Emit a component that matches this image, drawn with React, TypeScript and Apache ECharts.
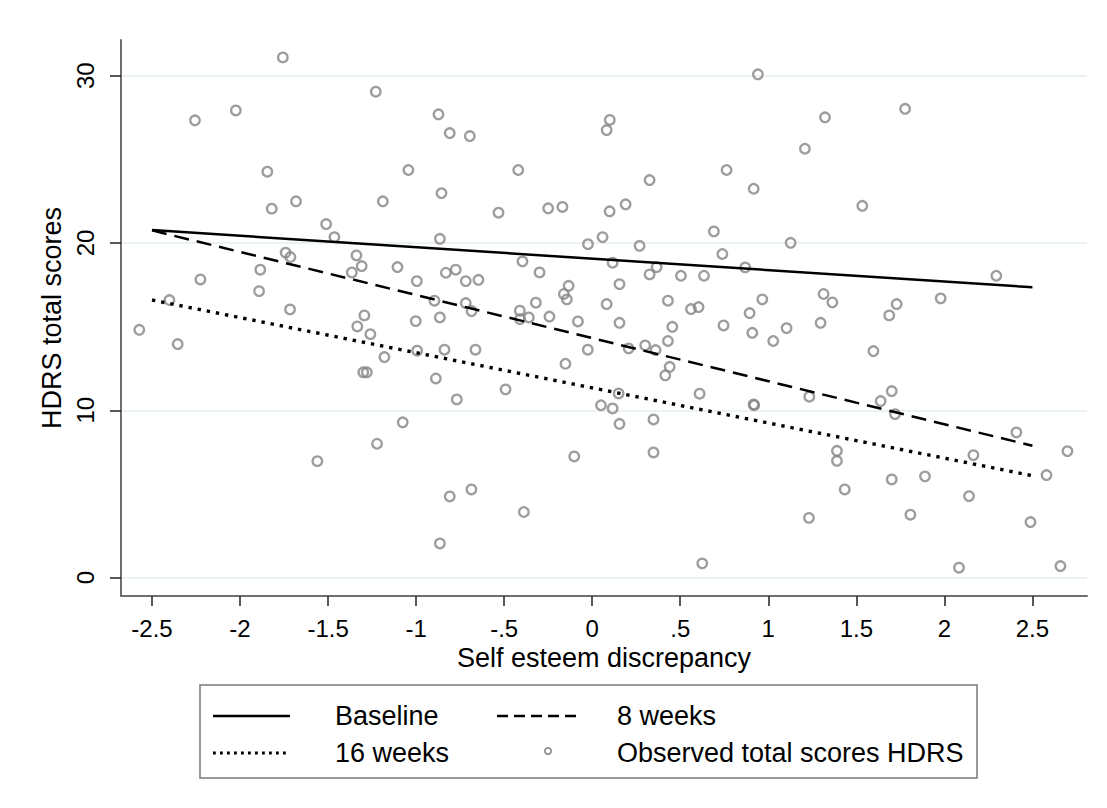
import React, { useEffect, useRef } from "react";
import * as echarts from "echarts";

const xTickValues = [-2.5, -2, -1.5, -1, -0.5, 0, 0.5, 1, 1.5, 2, 2.5];
const xTickLabels = ["-2.5", "-2", "-1.5", "-1", "-.5", "0", ".5", "1", "1.5", "2", "2.5"];
const yTickValues = [0, 10, 20, 30];
const yTickLabels = ["0", "10", "20", "30"];

const fitX = [-2.5, 2.5];
const baselineFit = [20.77, 17.35];
const week8Fit = [20.75, 7.88];
const week16Fit = [16.59, 6.09];

const observedX = [
  -1.757, -2.256, -2.024, -1.845, -1.82, -1.682, -1.511, -1.464, -1.741, -1.714,
  -1.339, -1.885, -1.365, -2.225, -1.892, -2.401, -1.716, -1.229, -0.873, -0.809,
  -0.695, -1.044, -0.42, -1.189, -0.856, -0.532, -0.25, -0.169, -0.865, -0.024,
  0.059, -1.309, -1.106, -0.996, -0.831, -0.775, -0.718, -0.646, -0.396, -0.299,
  -0.134, -0.161, -0.144, -0.32, -0.896, -0.718, -0.685, -0.411, -0.41, -0.36,
  -1.294, -1.002, -0.865, -0.243, -0.081, -1.334, -1.26, -1.18, -1.3, -1.28,
  -0.994, -0.839, -0.663, -0.888, -0.492, -0.769, -0.152, -0.025, 0.05, -1.076,
  -1.222, -0.102, -0.686, -0.809, -0.388, -0.865, -2.572, -2.354, -1.561, 0.941,
  0.1, 0.082, 1.322, 1.208, 0.326, 0.763, 0.917, 0.099, 0.19, 0.269,
  0.691, 1.127, 0.739, 0.116, 0.366, 0.326, 0.504, 0.635, 0.869, 0.155,
  0.082, 0.43, 0.561, 0.604, 0.894, 0.966, 1.314, 1.364, 1.777, 1.534,
  2.295, 1.729, 1.979, 1.687, 0.155, 0.455, 0.43, 0.746, 0.909, 1.028,
  1.104, 1.297, 0.207, 0.301, 0.36, 0.44, 0.415, 0.15, 0.116, 0.61,
  0.917, 0.92, 1.233, 0.155, 0.348, 0.348, 1.39, 1.39, 1.434, 1.231,
  0.625, 1.597, 1.701, 1.638, 1.72, 2.409, 2.699, 2.165, 2.58, 1.701,
  1.89, 1.807, 2.14, 2.489, 2.083, 2.659,
];
const observedY = [
  31.09, 27.33, 27.92, 24.26, 22.05, 22.49, 21.13, 20.35, 19.42, 19.16,
  19.26, 18.4, 18.24, 17.82, 17.12, 16.59, 16.03, 29.04, 27.69, 26.57,
  26.39, 24.36, 24.36, 22.49, 22.98, 21.81, 22.07, 22.15, 20.25, 19.93,
  20.35, 18.62, 18.56, 17.72, 18.22, 18.4, 17.72, 17.8, 18.9, 18.24,
  17.44, 16.95, 16.63, 16.43, 16.55, 16.41, 15.93, 15.95, 15.45, 15.55,
  15.67, 15.33, 15.55, 15.6, 15.31, 15.01, 14.55, 13.18, 12.27, 12.27,
  13.56, 13.62, 13.62, 11.9, 11.25, 10.65, 12.78, 13.62, 10.3, 9.28,
  8.0, 7.24, 5.27, 4.85, 3.92, 2.04, 14.81, 13.96, 6.96, 30.08,
  27.35, 26.75, 27.51, 25.63, 23.76, 24.36, 23.24, 21.89, 22.31, 19.83,
  20.69, 20.01, 19.34, 18.82, 18.56, 18.12, 18.04, 18.04, 18.54, 17.54,
  16.35, 16.55, 16.05, 16.17, 15.81, 16.63, 16.95, 16.45, 28.02, 22.22,
  18.04, 16.35, 16.69, 15.67, 15.23, 14.99, 14.14, 15.07, 14.63, 14.14,
  14.91, 15.23, 13.7, 13.88, 13.6, 12.6, 12.09, 11.01, 10.11, 10.99,
  10.35, 10.3, 10.81, 9.19, 9.45, 7.48, 7.58, 6.98, 5.27, 3.57,
  0.85, 13.54, 11.15, 10.55, 9.77, 8.68, 7.56, 7.32, 6.13, 5.87,
  6.05, 3.76, 4.87, 3.32, 0.59, 0.69,
];

const legendLabels = ["Baseline", "8 weeks", "16 weeks", "Observed total scores HDRS"];

const FONT = "'Liberation Sans', Arial, Helvetica, sans-serif";

export default function App() {
  const ref = useRef<HTMLDivElement>(null);

  useEffect(() => {
    if (!ref.current) return;
    const chart = echarts.init(ref.current, null, { renderer: "svg" });
    const scatterData = observedX.map((x, i) => [x, observedY[i]]);
    const lineData = (ys: number[]) => fitX.map((x, i) => [x, ys[i]]);

    const option: any = {
      animation: false,
      backgroundColor: "#ffffff",
      textStyle: { fontFamily: FONT },
      grid: { left: 121, right: 20, top: 40, bottom: 212, containLabel: false },
      xAxis: {
        type: "value",
        min: -2.676,
        max: 2.81,
        name: "Self esteem discrepancy",
        nameLocation: "middle",
        nameGap: 47,
        nameTextStyle: { fontSize: 27, color: "#000", fontFamily: FONT },
        axisLine: { show: true, onZero: false, lineStyle: { color: "#6e6e6e", width: 2 } },
        axisTick: {
          show: true,
          inside: false,
          length: 10,
          customValues: xTickValues,
          lineStyle: { color: "#222", width: 1.5 },
        },
        axisLabel: {
          show: true,
          customValues: xTickValues,
          margin: 20,
          fontSize: 24,
          color: "#000",
          fontFamily: FONT,
          formatter: (v: number) => {
            const i = xTickValues.findIndex((t) => Math.abs(t - v) < 1e-6);
            return i >= 0 ? xTickLabels[i] : "";
          },
        },
        splitLine: { show: false },
      },
      yAxis: {
        type: "value",
        min: -1.1,
        max: 32.13,
        name: "HDRS total scores",
        nameLocation: "middle",
        nameGap: 47,
        nameRotate: 90,
        nameTextStyle: { fontSize: 27, color: "#000", fontFamily: FONT },
        axisLine: { show: true, onZero: false, lineStyle: { color: "#6e6e6e", width: 2 } },
        axisTick: {
          show: true,
          inside: false,
          length: 11,
          customValues: yTickValues,
          lineStyle: { color: "#222", width: 1.5 },
        },
        axisLabel: {
          show: true,
          customValues: yTickValues,
          rotate: 90,
          margin: 24,
          fontSize: 24,
          color: "#000",
          fontFamily: FONT,
          formatter: (v: number) => {
            const i = yTickValues.findIndex((t) => Math.abs(t - v) < 1e-6);
            return i >= 0 ? yTickLabels[i] : "";
          },
        },
        splitLine: { show: true, lineStyle: { color: "#e3eef0", width: 1.5 } },
      },
      series: [
        {
          name: legendLabels[3],
          type: "scatter",
          data: scatterData,
          symbol: "circle",
          symbolSize: 9.5,
          itemStyle: { color: "rgba(0,0,0,0)", borderColor: "#858585", borderWidth: 2.3 },
          z: 2,
        },
        {
          name: legendLabels[0],
          type: "line",
          data: lineData(baselineFit),
          showSymbol: false,
          symbol: "none",
          lineStyle: { color: "#000", width: 2.5, type: "solid" },
          z: 3,
        },
        {
          name: legendLabels[1],
          type: "line",
          data: lineData(week8Fit),
          showSymbol: false,
          symbol: "none",
          lineStyle: { color: "#000", width: 2.5, type: [15, 8] },
          z: 3,
        },
        {
          name: legendLabels[2],
          type: "line",
          data: lineData(week16Fit),
          showSymbol: false,
          symbol: "none",
          lineStyle: { color: "#000", width: 3.4, type: [3.4, 5.9] },
          z: 3,
        },
      ],
      graphic: [
        {
          type: "rect",
          shape: { x: 200, y: 685, width: 777, height: 93 },
          style: { fill: "none", stroke: "#7a7a7a", lineWidth: 1.5 },
          silent: true,
        },
        {
          type: "line",
          shape: { x1: 213, y1: 716, x2: 290, y2: 716 },
          style: { stroke: "#000", lineWidth: 2.3 },
        },
        {
          type: "text",
          x: 335,
          y: 716,
          style: { text: legendLabels[0], font: `27px ${FONT}`, fill: "#000", verticalAlign: "middle" },
        },
        {
          type: "line",
          shape: { x1: 497, y1: 716, x2: 578, y2: 716 },
          style: { stroke: "#000", lineWidth: 2.3, lineDash: [11, 6] },
        },
        {
          type: "text",
          x: 617,
          y: 716,
          style: { text: legendLabels[1], font: `27px ${FONT}`, fill: "#000", verticalAlign: "middle" },
        },
        {
          type: "line",
          shape: { x1: 213, y1: 753, x2: 290, y2: 753 },
          style: { stroke: "#000", lineWidth: 2.8, lineDash: [2.8, 4.2] },
        },
        {
          type: "text",
          x: 335,
          y: 753,
          style: { text: legendLabels[2], font: `27px ${FONT}`, fill: "#000", verticalAlign: "middle" },
        },
        {
          type: "circle",
          shape: { cx: 548, cy: 751, r: 3.2 },
          style: { fill: "none", stroke: "#858585", lineWidth: 1.6 },
        },
        {
          type: "text",
          x: 617,
          y: 753,
          style: { text: legendLabels[3], font: `27px ${FONT}`, fill: "#000", verticalAlign: "middle" },
        },
      ],
    };

    chart.setOption(option);
    return () => chart.dispose();
  }, []);

  return (
    <div
      ref={ref}
      style={{ position: "fixed", left: 0, top: 0, width: 1107, height: 808, background: "#fff" }}
    />
  );
}
